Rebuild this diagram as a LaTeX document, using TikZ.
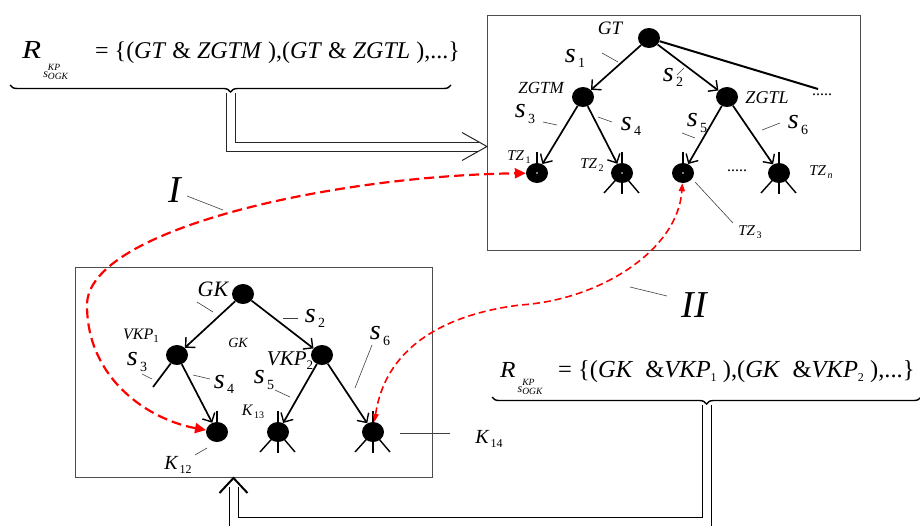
\documentclass[tikz,border=0pt]{standalone}
\usepackage{fontspec}
\setmainfont{Liberation Serif}
\usetikzlibrary{arrows.meta,shapes.geometric,decorations.pathreplacing,calc}
\newcommand{\lab}[4]{{\fontsize{#1}{#1}\selectfont\itshape #3\raisebox{-0.4ex}{\fontsize{#2}{#2}\selectfont\upshape #4}}}
% #1 box width, #2 R size, #3 R stretch, #4 drop of subscript
\newcommand{\Rsub}[4]{\makebox[#1][l]{{\fontsize{#2}{#2}\selectfont\itshape\scalebox{#3}[1]{R}}\hspace{2pt}\raisebox{-#4}{\fontsize{12}{12}\selectfont\itshape s\rlap{\raisebox{7pt}{\fontsize{9.5}{9.5}\selectfont KP}}\raisebox{-2pt}{\fontsize{9.5}{9.5}\selectfont OGK}}}}
\begin{document}
\begin{tikzpicture}[x=1pt,y=-1pt,
  box/.style={draw=black!70, line width=0.9pt, rectangle, inner sep=0pt},
  dot/.style={ellipse, fill=black, minimum width=22pt, minimum height=20pt, inner sep=0pt},
  arr/.style={line width=1.7pt, -{Straight Barb[length=7pt,width=14pt,line width=1.4pt]}},
  stub/.style={line width=1.4pt},
  tick/.style={line width=0.6pt, draw=black!75},
  lbl/.style={inner sep=0pt},
  redI/.style={draw=red, line width=2.2pt, dash pattern=on 10pt off 5pt,
     {Triangle[length=11pt,width=10pt]}-{Triangle[length=11pt,width=10pt]}},
  redII/.style={draw=red, line width=1.6pt, dash pattern=on 7pt off 4pt,
     {Triangle[length=8pt,width=6pt]}-{Triangle[length=8pt,width=6pt]}},
  dbl/.style={double=white, double distance=8pt, line width=1pt, draw=black!85},
  wing/.style={line width=1pt, draw=black!85},
  brc/.style={decorate, decoration={brace, mirror, amplitude=7pt}, line width=1.4pt}
]
\useasboundingbox (0,0) rectangle (920,525);

% boxes
\node[box, minimum width=373pt, minimum height=235pt] (topbox) at (673.5,132.5) {};
\node[box, minimum width=357pt, minimum height=210pt] (botbox) at (253.5,372) {};

% formulas
\node[anchor=base west, lbl] (F1) at (22,58) {\Rsub{73pt}{26}{1.2}{19pt}{\fontsize{24}{24}\selectfont = \{(\textit{GT} \& \textit{ZGTM} ),(\textit{GT} \& \textit{ZGTL} ),...\}}};
\node[anchor=base west, lbl] (F2) at (500,377) {\Rsub{58pt}{23}{1.1}{15pt}{\fontsize{24.5}{24.5}\selectfont = \{(\textit{GK} \ \&\textit{VKP}\raisebox{-0.4ex}{\fontsize{12}{12}\selectfont 1} ),(\textit{GK} \ \&\textit{VKP}\raisebox{-0.4ex}{\fontsize{12}{12}\selectfont 2} ),...\}}};

% braces and double arrows
\coordinate (b1L) at (10,85); \coordinate (b1R) at (451,85);
\draw[brc] (b1L) -- (b1R);
\coordinate (b1tip) at (230.5,93);
\coordinate (in1) at (487,146.5);
\coordinate (in1e) at (479,146.5);
\draw[dbl] (b1tip) |- (in1e);
\draw[wing] ($(in1)+(-25,-14)$) -- (in1) -- ($(in1)+(-25,14)$);

\coordinate (b2L) at (492,397); \coordinate (b2R) at (921,397);
\draw[brc] (b2L) -- (b2R);
\coordinate (b2tip) at (706.5,405);
\coordinate (bend2) at (233.5,522);
\coordinate (in2) at (233.5,478);
\coordinate (in2e) at (233.5,487);
\draw[dbl, draw=black] (b2tip) |- (bend2) -- (in2e);
\draw[wing, line width=2pt, draw=black] ($(in2)+(-14,15)$) -- (in2) -- ($(in2)+(14,15)$);

% top tree
\node[dot] (GT) at (649,38) {};
\node[dot] (ZGTM) at (583,97) {};
\node[dot] (ZGTL) at (727,97) {};
\node[dot] (TZ1) at (537,173) {};
\node[dot] (TZ2) at (622,173) {};
\node[dot] (TZ3) at (683,173) {};
\node[dot] (TZn) at (779,173) {};
\coordinate (GTend) at (818,89);
\draw[line width=2pt] (GT) -- (GTend);
\draw[arr] (GT) -- (ZGTM);
\draw[arr] (GT) -- (ZGTL);
\draw[arr] (ZGTM) -- (TZ1);
\draw[arr] (ZGTM) -- (TZ2);
\draw[arr] (ZGTL) -- (TZ3);
\draw[arr] (ZGTL) -- (TZn);

% bottom tree
\node[dot] (GK) at (243,294) {};
\node[dot] (VKP1) at (177,355) {};
\node[dot] (VKP2) at (322,355) {};
\node[dot] (K12) at (217,432) {};
\node[dot] (K13) at (278,432) {};
\node[dot] (K14) at (373,432) {};
\coordinate (s3end) at (153,387);
\draw[arr] (GK) -- (VKP1);
\draw[arr] (GK) -- (VKP2);
\draw[arr] (VKP1) -- (K12);
\draw[line width=1.7pt] (VKP1) -- (s3end);
\draw[arr] (VKP2) -- (K13);
\draw[arr] (VKP2) -- (K14);

% stubs
\foreach \n in {TZ1,TZ2,TZ3,TZn,K12,K13,K14}{\draw[stub] (\n.north) -- ++(0,-11);}
\foreach \n in {TZ2,TZn,K13,K14}{
  \draw[stub] (\n.center) -- ++(-18,20);
  \draw[stub] (\n.center) -- ++(0,21);
  \draw[stub] (\n.center) -- ++(17,20);}
\foreach \n in {TZ1,TZ2,TZ3}{\fill[white] (\n.center) circle (0.9);}

% top labels
\node[lbl] (lGT) at (610,28) {\fontsize{19}{19}\selectfont\itshape GT};
\node[lbl] (ls1) at (575,58) {\lab{28}{14}{s}{\,1}};
\node[lbl] (ls2) at (673,77) {\lab{28}{14}{s}{\,2}};
\node[lbl] (lZGTM) at (541,88) {\fontsize{17}{17}\selectfont\itshape ZGTM};
\node[lbl] (lZGTL) at (767,98) {\fontsize{18}{18}\selectfont\itshape ZGTL};
\node[lbl] (ls3) at (525,114) {\lab{28}{14}{s}{\,3}};
\node[lbl] (ls4) at (631,126) {\lab{28}{14}{s}{\,4}};
\node[lbl] (ls5) at (697,123) {\lab{28}{14}{s}{\,5}};
\node[lbl] (ls6) at (798,125) {\lab{28}{14}{s}{\,6}};
\node[lbl] (lTZ1) at (519,157) {\lab{15}{10}{TZ}{\,1}};
\node[lbl] (lTZ2) at (592,165) {\lab{15}{10}{TZ}{\,2}};
\node[lbl] (lTZn) at (821,172) {\lab{15}{10}{TZ}{\,\itshape n}};
\node[lbl] (lTZ3) at (750,232) {\lab{15}{10}{TZ}{\,3}};
\node[lbl] (d1) at (822,95) {\fontsize{16}{16}\selectfont .....};
\node[lbl] (d2) at (737,171) {\fontsize{16}{16}\selectfont .....};

\draw[tick] (602,53) -- (618,62);
\draw[tick] (677,75) -- (684,68);
\draw[tick] (543,122) -- (557,125);
\draw[tick] (598,117) -- (612,122);
\draw[tick] (682,133) -- (695,138);
\draw[tick] (762,130) -- (780,123);
\draw[tick] (695,182) -- (733,223);

% bottom labels
\node[lbl] (lGK) at (213,289) {\fontsize{22}{22}\selectfont\itshape GK};
\node[lbl] (lbs2) at (315,318) {\lab{28}{14}{s}{\,2}};
\node[lbl] (lVKP1) at (141,336) {\lab{16}{11}{VKP}{1}};
\node[lbl] (lGKs) at (238,343) {\fontsize{14}{14}\selectfont\itshape GK};
\node[lbl] (lVKP2) at (290,361) {\lab{21}{13}{VKP}{2}};
\node[lbl] (lbs3) at (137,362) {\lab{28}{14}{s}{\,3}};
\node[lbl] (lbs4) at (224,384) {\lab{28}{14}{s}{\,4}};
\node[lbl] (lbs5) at (264,380) {\lab{28}{14}{s}{\,5}};
\node[lbl] (lbs6) at (380,336) {\lab{28}{14}{s}{\,6}};
\node[lbl] (lK13) at (253,412) {\lab{16}{10}{K}{\,13}};
\node[lbl] (lK12) at (178,465) {\lab{20}{12}{K}{\,12}};
\node[lbl] (lK14) at (489,439) {\lab{20}{12}{K}{\,14}};

\draw[tick] (197,302) -- (213,312);
\draw[tick] (283,318) -- (298,318);
\draw[tick] (142,374) -- (152,379);
\draw[tick] (193,375) -- (210,379);
\draw[tick] (275,390) -- (290,397);
\draw[tick] (372,345) -- (355,388);
\draw[tick] (195,455) -- (207,448);
\draw[tick] (400,433) -- (450,433);

% roman numerals
\node[lbl] (nI) at (175,190) {\fontsize{38}{38}\selectfont\itshape I};
\node[lbl] (nII) at (694,305) {\fontsize{38}{38}\selectfont\itshape II};
\draw[tick] (187,196) -- (223,210);
\draw[tick] (630,287) -- (667,296);

% red curves
\coordinate (cI) at (87,305);
\draw[redI] (K12) .. controls (150,420) and (87,380) .. (cI) .. controls (87,230) and (330,176) .. (TZ1);
\coordinate (cII) at (520,305);
\draw[redII] (K14) .. controls (385,350) and (440,315) .. (cII) .. controls (600,300) and (678,250) .. (TZ3);
\end{tikzpicture}
\end{document}
